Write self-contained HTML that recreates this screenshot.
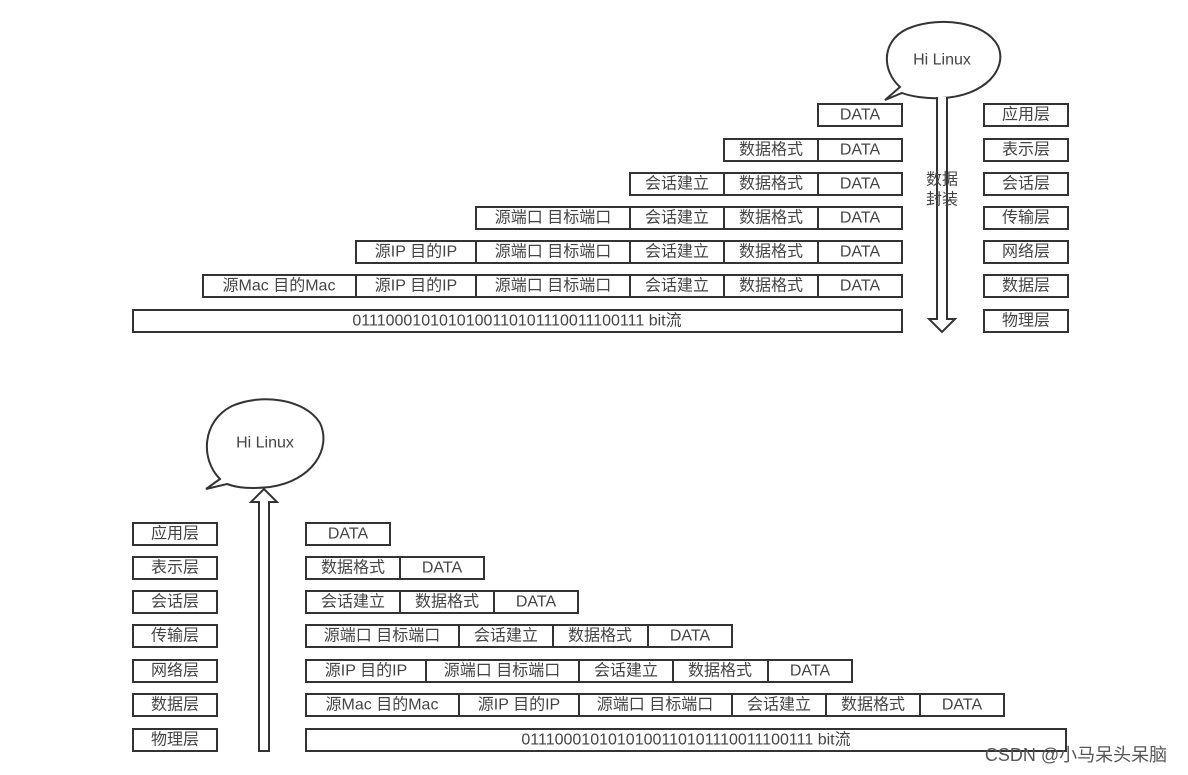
<!DOCTYPE html>
<html><head><meta charset="utf-8"><style>
body{margin:0;background:#fff}
svg{display:block}
text{font-family:"Liberation Sans","Noto Sans CJK SC",sans-serif;font-size:16px;fill:#444;text-anchor:middle;dominant-baseline:central}
rect{fill:#fff;stroke:#333;stroke-width:2}
</style></head><body>
<svg width="1188" height="775" viewBox="0 0 1188 775">
<g transform="translate(0,1)">
<!-- top bubble -->
<path d="M900,86 C880,68 882,36 912,26 C940,16 985,20 998,45 C1008,68 985,95 942,97 C925,98 910,95 902,92 L885,99 Z" fill="#fff" stroke="#333" stroke-width="2"/>
<text x="942" y="59">Hi Linux</text>
<!-- down arrow -->
<path d="M937,96 L937,318 L929,318 L942,331 L955,318 L947,318 L947,96" fill="#fff" stroke="#333" stroke-width="2"/>
<text x="942" y="179">数据</text>
<text x="942" y="199">封装</text>
<!-- top rows -->
<rect x="818" y="103" width="84" height="22"/><text x="860" y="114">DATA</text>
<rect x="724" y="138" width="94" height="22"/><text x="771" y="149">数据格式</text>
<rect x="818" y="138" width="84" height="22"/><text x="860" y="149">DATA</text>
<rect x="630" y="172" width="94" height="22"/><text x="677" y="183">会话建立</text>
<rect x="724" y="172" width="94" height="22"/><text x="771" y="183">数据格式</text>
<rect x="818" y="172" width="84" height="22"/><text x="860" y="183">DATA</text>
<rect x="476" y="206" width="154" height="22"/><text x="553" y="217">源端口 目标端口</text>
<rect x="630" y="206" width="94" height="22"/><text x="677" y="217">会话建立</text>
<rect x="724" y="206" width="94" height="22"/><text x="771" y="217">数据格式</text>
<rect x="818" y="206" width="84" height="22"/><text x="860" y="217">DATA</text>
<rect x="356" y="240" width="120" height="22"/><text x="416" y="251">源IP 目的IP</text>
<rect x="476" y="240" width="154" height="22"/><text x="553" y="251">源端口 目标端口</text>
<rect x="630" y="240" width="94" height="22"/><text x="677" y="251">会话建立</text>
<rect x="724" y="240" width="94" height="22"/><text x="771" y="251">数据格式</text>
<rect x="818" y="240" width="84" height="22"/><text x="860" y="251">DATA</text>
<rect x="203" y="274" width="153" height="22"/><text x="279" y="285">源Mac 目的Mac</text>
<rect x="356" y="274" width="120" height="22"/><text x="416" y="285">源IP 目的IP</text>
<rect x="476" y="274" width="154" height="22"/><text x="553" y="285">源端口 目标端口</text>
<rect x="630" y="274" width="94" height="22"/><text x="677" y="285">会话建立</text>
<rect x="724" y="274" width="94" height="22"/><text x="771" y="285">数据格式</text>
<rect x="818" y="274" width="84" height="22"/><text x="860" y="285">DATA</text>
<rect x="133" y="309" width="769" height="22"/><text x="517" y="320">0111000101010100110101110011100111 bit流</text>
<!-- top labels -->
<rect x="984" y="103" width="84" height="22"/><text x="1026" y="114">应用层</text>
<rect x="984" y="138" width="84" height="22"/><text x="1026" y="149">表示层</text>
<rect x="984" y="172" width="84" height="22"/><text x="1026" y="183">会话层</text>
<rect x="984" y="206" width="84" height="22"/><text x="1026" y="217">传输层</text>
<rect x="984" y="240" width="84" height="22"/><text x="1026" y="251">网络层</text>
<rect x="984" y="274" width="84" height="22"/><text x="1026" y="285">数据层</text>
<rect x="984" y="309" width="84" height="22"/><text x="1026" y="320">物理层</text>

<!-- bottom bubble -->
<path d="M220,478 C200,458 202,420 232,405 C262,392 305,398 320,422 C332,448 312,480 270,486 C250,488 238,487 227,483 L206,488 Z" fill="#fff" stroke="#333" stroke-width="2"/>
<text x="265" y="442">Hi Linux</text>
<!-- up arrow -->
<path d="M259,750 L259,501 L251,501 L264,488 L277,501 L269,501 L269,750 Z" fill="#fff" stroke="#333" stroke-width="2"/>
<!-- bottom labels -->
<rect x="133" y="522" width="84" height="22"/><text x="175" y="533">应用层</text>
<rect x="133" y="556" width="84" height="22"/><text x="175" y="567">表示层</text>
<rect x="133" y="590" width="84" height="22"/><text x="175" y="601">会话层</text>
<rect x="133" y="624" width="84" height="22"/><text x="175" y="635">传输层</text>
<rect x="133" y="659" width="84" height="22"/><text x="175" y="670">网络层</text>
<rect x="133" y="693" width="84" height="22"/><text x="175" y="704">数据层</text>
<rect x="133" y="728" width="84" height="22"/><text x="175" y="739">物理层</text>
<!-- bottom rows -->
<rect x="306" y="522" width="84" height="22"/><text x="348" y="533">DATA</text>
<rect x="306" y="556" width="94" height="22"/><text x="353" y="567">数据格式</text>
<rect x="400" y="556" width="84" height="22"/><text x="442" y="567">DATA</text>
<rect x="306" y="590" width="94" height="22"/><text x="353" y="601">会话建立</text>
<rect x="400" y="590" width="94" height="22"/><text x="447" y="601">数据格式</text>
<rect x="494" y="590" width="84" height="22"/><text x="536" y="601">DATA</text>
<rect x="306" y="624" width="153" height="22"/><text x="382" y="635">源端口 目标端口</text>
<rect x="459" y="624" width="94" height="22"/><text x="506" y="635">会话建立</text>
<rect x="553" y="624" width="95" height="22"/><text x="600" y="635">数据格式</text>
<rect x="648" y="624" width="84" height="22"/><text x="690" y="635">DATA</text>
<rect x="306" y="659" width="120" height="22"/><text x="366" y="670">源IP 目的IP</text>
<rect x="426" y="659" width="153" height="22"/><text x="502" y="670">源端口 目标端口</text>
<rect x="579" y="659" width="94" height="22"/><text x="626" y="670">会话建立</text>
<rect x="673" y="659" width="95" height="22"/><text x="720" y="670">数据格式</text>
<rect x="768" y="659" width="84" height="22"/><text x="810" y="670">DATA</text>
<rect x="306" y="693" width="153" height="22"/><text x="382" y="704">源Mac 目的Mac</text>
<rect x="459" y="693" width="120" height="22"/><text x="519" y="704">源IP 目的IP</text>
<rect x="579" y="693" width="153" height="22"/><text x="655" y="704">源端口 目标端口</text>
<rect x="732" y="693" width="94" height="22"/><text x="779" y="704">会话建立</text>
<rect x="826" y="693" width="94" height="22"/><text x="873" y="704">数据格式</text>
<rect x="920" y="693" width="84" height="22"/><text x="962" y="704">DATA</text>
<rect x="306" y="728" width="760" height="22"/><text x="686" y="739">0111000101010100110101110011100111 bit流</text>
</g>
<text x="1076" y="755" style="font-size:18px;fill:#555">CSDN @小马呆头呆脑</text>
</svg>
</body></html>
